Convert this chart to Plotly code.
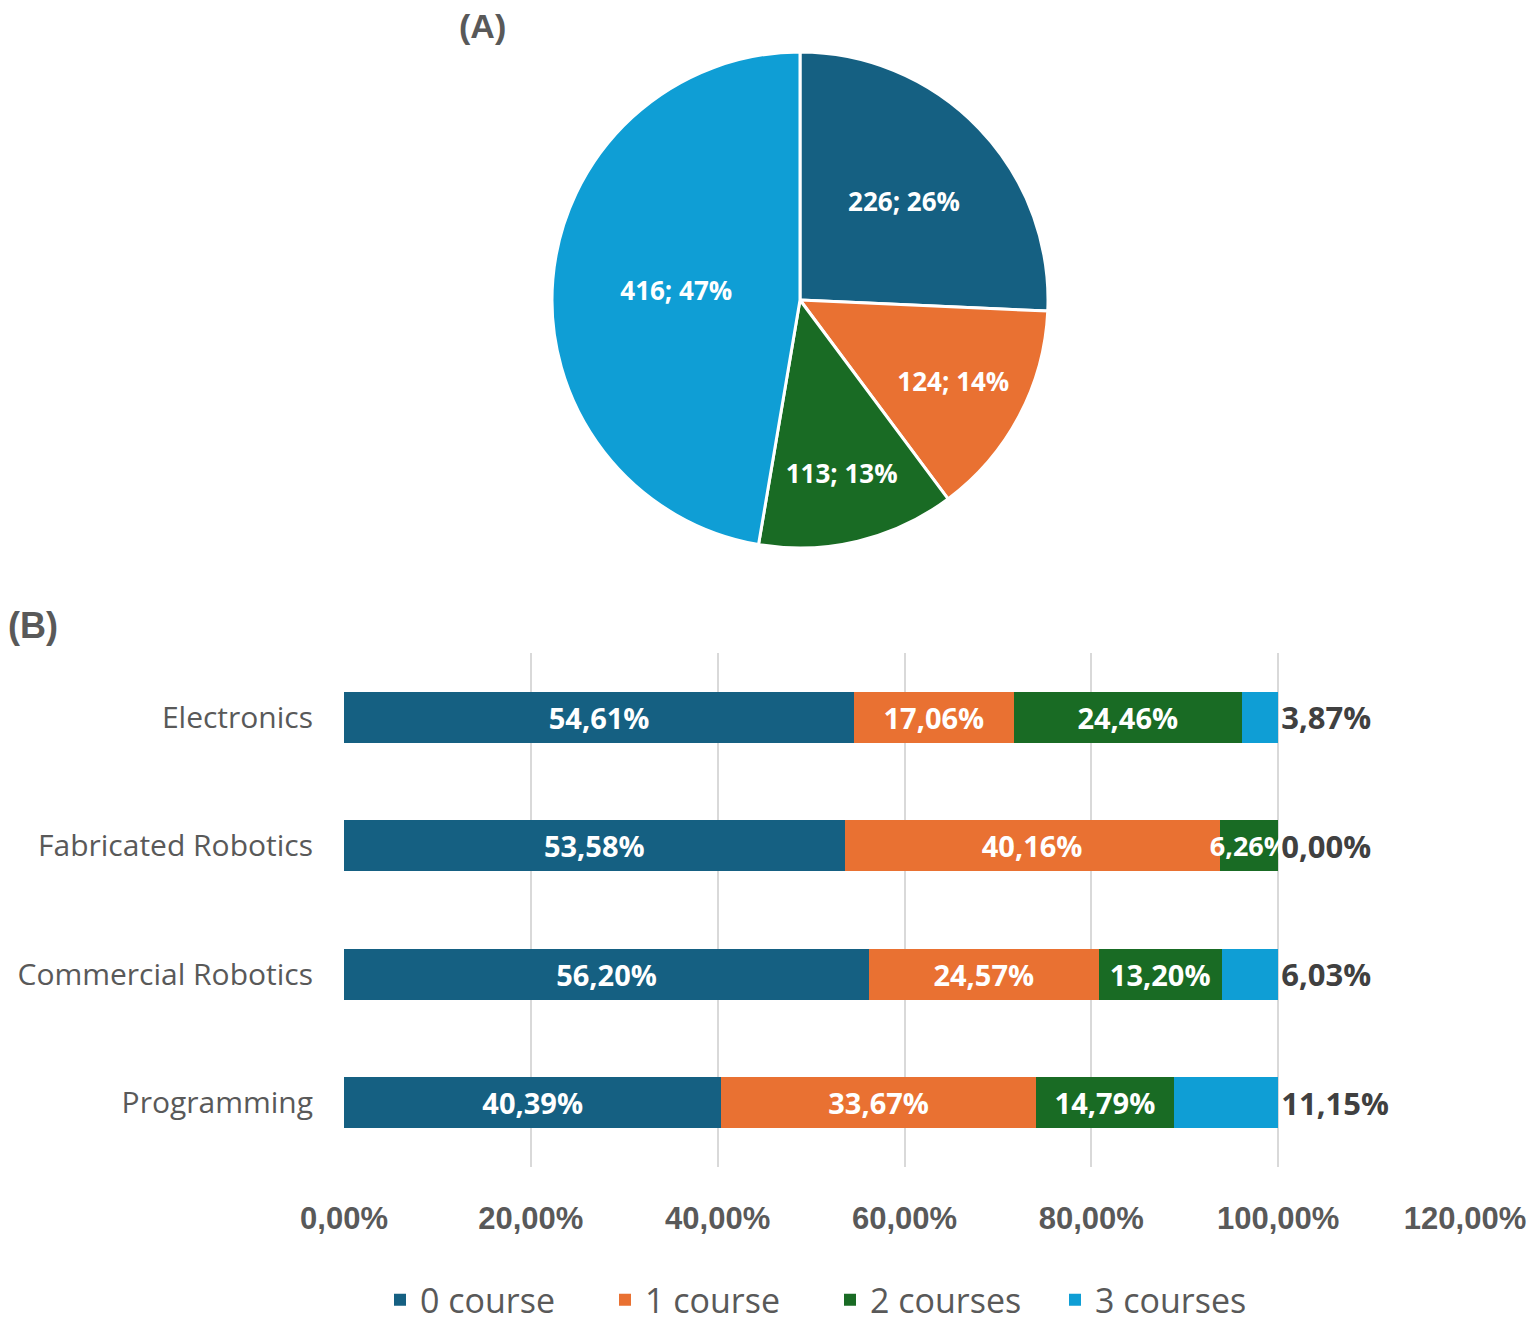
import plotly.graph_objects as go

# Pie (A)
pie_labels = ["0 course", "1 course", "2 courses", "3 courses"]
pie_values = [226, 124, 113, 416]

# Bars (B)
categories = ["Electronics", "Fabricated Robotics", "Commercial Robotics", "Programming"]
series_names = ["0 course", "1 course", "2 courses", "3 courses"]
s0 = [0.5461, 0.5358, 0.5620, 0.4039]
s1 = [0.1706, 0.4016, 0.2457, 0.3367]
s2 = [0.2446, 0.0626, 0.1320, 0.1479]
s3 = [0.0387, 0.0000, 0.0603, 0.1115]
x_ticks = [0, 0.2, 0.4, 0.6, 0.8, 1.0, 1.2]

colors = ["#156082", "#E97132", "#196B24", "#0F9ED5"]
gray = "#595959"
OFF = 8  # page body margin
W, H = 1535 - 2 * OFF, 1332 - 2 * OFF


def px(x):
    return (x - OFF) / W


def py(y):
    return 1 - (y - OFF) / H


fig = go.Figure()

fig.add_trace(go.Pie(
    labels=pie_labels, values=pie_values, sort=False, direction="clockwise",
    rotation=0, marker=dict(colors=colors, line=dict(color="white", width=3)),
    texttemplate="%{value}; %{percent:.0%}", textposition="inside",
    insidetextorientation="horizontal",
    textfont=dict(color="white", size=26, family="Open Sans", weight="bold"),
    showlegend=False, hoverinfo="skip",
    domain=dict(x=[px(552), px(1048)], y=[py(548), py(52)]),
))

series = [s0, s1, s2, s3]
for i, (name, vals) in enumerate(zip(series_names, series)):
    last = i == 3
    if last:
        fsize = 31
    else:
        # slightly smaller label where the segment is too narrow for its text
        fsize = [29 if v >= 0.08 else 27 for v in vals]
    fig.add_trace(go.Bar(
        y=categories, x=vals, name=name, orientation="h",
        marker=dict(color=colors[i], line=dict(width=0)),
        text=[f"{v*100:.2f}%".replace(".", ",") for v in vals],
        textposition="outside" if last else "inside",
        insidetextanchor="middle",
        constraintext="none",
        cliponaxis=False,
        textfont=dict(color="#404040" if last else "white", size=fsize,
                      family="Open Sans", weight="bold"),
        xaxis="x", yaxis="y", hoverinfo="skip",
    ))

fig.update_layout(
    width=W, height=H, margin=dict(l=0, r=0, t=0, b=0, autoexpand=False),
    paper_bgcolor="white", plot_bgcolor="white",
    barmode="stack", bargap=0.6, separators=",.",
    xaxis=dict(domain=[px(344), px(1465)], range=[0, 1.2], tickvals=x_ticks,
               tickformat=".2%", showgrid=True, gridcolor="#d9d9d9", gridwidth=2,
               zeroline=False, showline=False, ticks="", ticklabelstandoff=30,
               automargin=False,
               tickfont=dict(size=31, color=gray, family="Liberation Sans", weight="bold"),
               fixedrange=True),
    yaxis=dict(domain=[py(1167), py(653)], autorange="reversed",
               categoryorder="array", categoryarray=categories,
               showgrid=False, zeroline=False, showline=False, ticks="",
               ticklabelstandoff=30, automargin=False,
               tickfont=dict(size=30, color=gray, family="Open Sans")),
    legend=dict(orientation="h", x=px(830), xanchor="center", y=-0.004, yanchor="bottom",
                font=dict(size=34, color=gray, family="Open Sans"),
                traceorder="normal", itemwidth=30,
                entrywidth=180, entrywidthmode="pixels"),
    annotations=[
        dict(text="<b>(A)</b>", x=px(483), y=py(26), xref="paper", yref="paper",
             xanchor="center", yanchor="middle", showarrow=False,
             font=dict(size=34, color=gray, family="Liberation Sans")),
        dict(text="<b>(B)</b>", x=px(33), y=py(625), xref="paper", yref="paper",
             xanchor="center", yanchor="middle", showarrow=False,
             font=dict(size=36, color=gray, family="Liberation Sans")),
    ],
)

fig.write_html("out.html")
